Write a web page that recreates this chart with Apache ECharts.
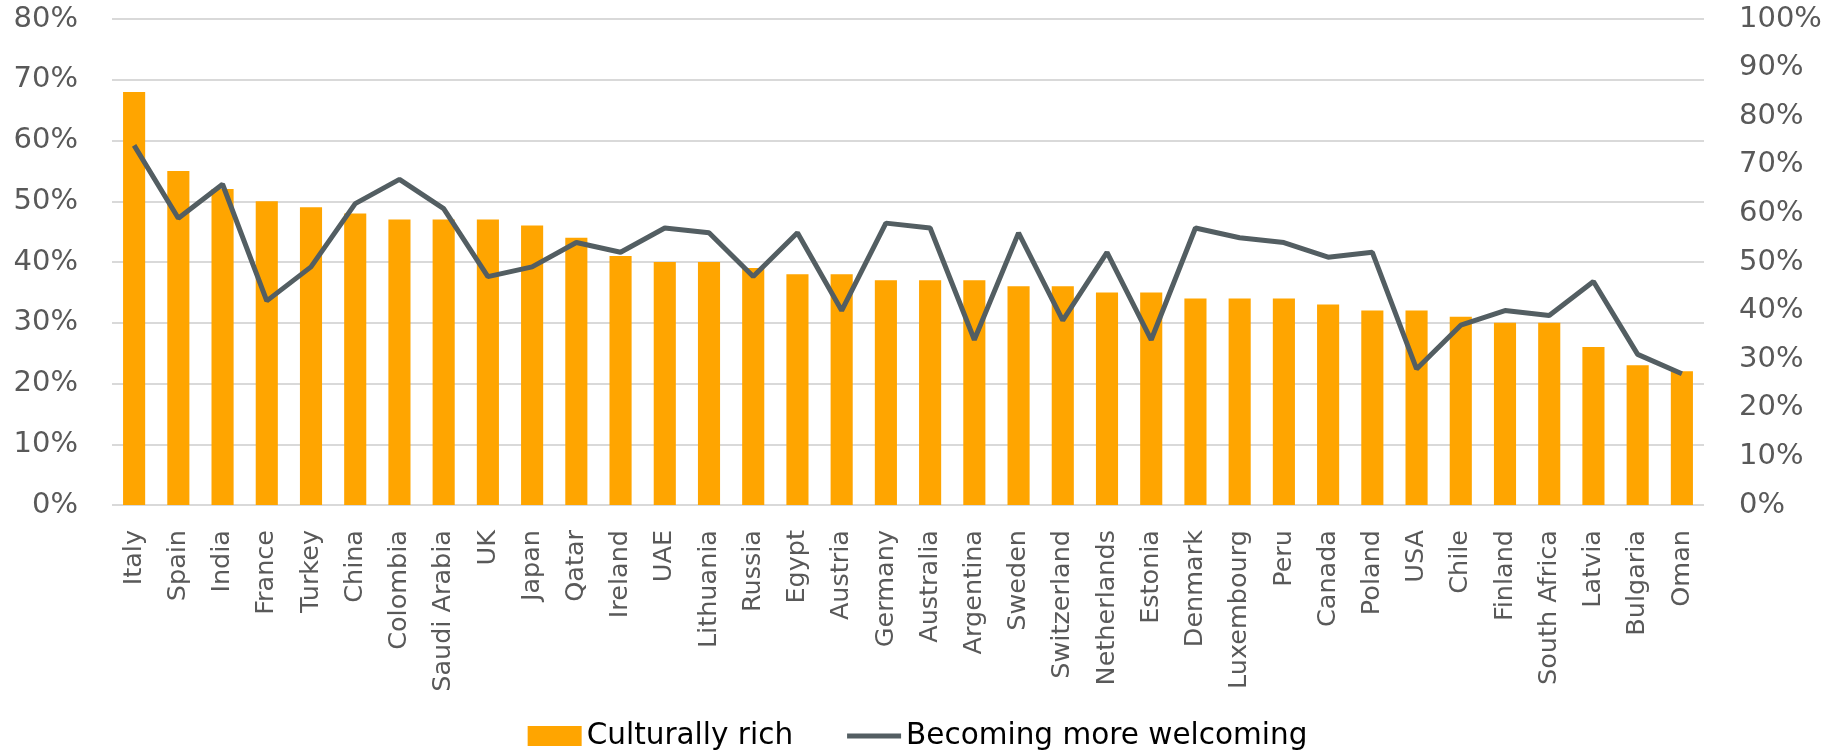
<!DOCTYPE html>
<html>
<head>
<meta charset="utf-8">
<script src="https://cdn.jsdelivr.net/npm/echarts@6/dist/echarts.min.js"></script>
<style>
  html, body { margin: 0; padding: 0; background: #fff; }
  #chart { width: 1835px; height: 752px; }
</style>
</head>
<body>
<div id="chart"></div>
<script>
// countries, sorted by "culturally rich" share
var countries = ['Italy', 'Spain', 'India', 'France', 'Turkey', 'China', 'Colombia', 'Saudi Arabia', 'UK', 'Japan',
    'Qatar', 'Ireland', 'UAE', 'Lithuania', 'Russia', 'Egypt', 'Austria', 'Germany', 'Australia', 'Argentina',
    'Sweden', 'Switzerland', 'Netherlands', 'Estonia', 'Denmark', 'Luxembourg', 'Peru', 'Canada', 'Poland', 'USA',
    'Chile', 'Finland', 'South Africa', 'Latvia', 'Bulgaria', 'Oman'];

// left axis (%)
var culturallyRich = [68, 55, 52, 50, 49, 48, 47, 47, 47, 46, 44, 41, 40, 40, 39, 38, 38, 37, 37, 37,
    36, 36, 35, 35, 34, 34, 34, 33, 32, 32, 31, 30, 30, 26, 23, 22];

// right axis (%)
var welcoming = [74, 59, 66, 42, 49, 62, 67, 61, 47, 49, 54, 52, 57, 56, 47, 56, 40, 58, 57, 34,
    56, 38, 52, 34, 57, 55, 54, 51, 52, 28, 37, 40, 39, 46, 31, 27];

var seriesNames = ['Culturally rich', 'Becoming more welcoming'];

// thin bar icon for the line legend (empty moves keep the 54x20 box)
var lineIcon = 'path://M0,0 L0,0 M0,7.6 L54,7.6 L54,12.4 L0,12.4 Z M54,20 L54,20';

var chart = echarts.init(document.getElementById('chart'));

var option = {
    animation: false,
    backgroundColor: '#ffffff',
    grid: {
        left: 112,
        right: 131,
        top: 19,
        bottom: 247,
        containLabel: false
    },
    legend: {
        left: 'center',
        top: 716,
        itemWidth: 54,
        itemHeight: 20,
        itemGap: 54,
        textStyle: {
            fontFamily: 'DejaVu Sans',
            fontSize: 29.5,
            color: '#000000'
        },
        data: [
            { name: seriesNames[0], icon: 'rect' },
            { name: seriesNames[1], icon: lineIcon }
        ]
    },
    xAxis: {
        type: 'category',
        data: countries,
        axisLine: { show: false },
        axisTick: { show: false },
        axisLabel: {
            rotate: 90,
            interval: 0,
            margin: 25,
            fontFamily: 'DejaVu Sans',
            fontSize: 25.5,
            color: '#595959'
        }
    },
    yAxis: [
        {
            type: 'value',
            min: 0,
            max: 80,
            interval: 10,
            axisLine: { show: false },
            axisTick: { show: false },
            axisLabel: {
                formatter: '{value}%',
                margin: 34,
                fontFamily: 'DejaVu Sans',
                fontSize: 29,
                color: '#595959'
            },
            splitLine: {
                lineStyle: { color: '#D9D9D9', width: 2 }
            }
        },
        {
            type: 'value',
            min: 0,
            max: 100,
            interval: 10,
            axisLine: { show: false },
            axisTick: { show: false },
            axisLabel: {
                formatter: '{value}%',
                margin: 35,
                fontFamily: 'DejaVu Sans',
                fontSize: 29,
                color: '#595959'
            },
            splitLine: { show: false }
        }
    ],
    series: [
        {
            name: seriesNames[0],
            type: 'bar',
            barWidth: '50%',
            itemStyle: { color: '#FFA500' },
            data: culturallyRich
        },
        {
            name: seriesNames[1],
            type: 'line',
            yAxisIndex: 1,
            symbol: 'none',
            lineStyle: { color: '#535E62', width: 5 },
            itemStyle: { color: '#535E62' },
            data: welcoming
        }
    ]
};

chart.setOption(option);
</script>
</body>
</html>
